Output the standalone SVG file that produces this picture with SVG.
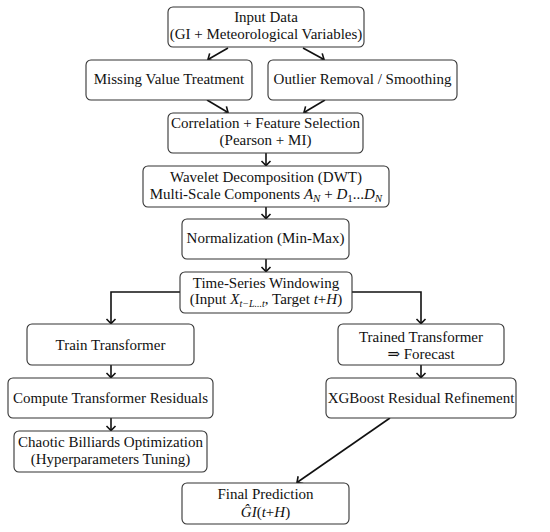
<svg xmlns="http://www.w3.org/2000/svg" width="550" height="532" viewBox="0 0 550 532">
<style>
.box{fill:#fff;stroke:#333;stroke-width:1.1}
.t{font-family:"Liberation Serif","DejaVu Serif",serif;font-size:15px;fill:#111;text-anchor:middle}
.i{font-style:italic}
.c{fill:none;stroke:#111;stroke-width:1.6}
</style>
<defs>
<marker id="ah" viewBox="-6 -6 8 12" markerWidth="8" markerHeight="12" refX="0" refY="0" orient="auto" markerUnits="userSpaceOnUse">
<path d="M-4.5,-4.5 L0,0 L-4.5,4.5" fill="none" stroke="#111" stroke-width="1.6"/>
</marker>
</defs>
<rect width="550" height="532" fill="#fff"/>
<g id="connectors">
<line class="c" x1="228" y1="48" x2="208" y2="59.5" marker-end="url(#ah)"/>
<line class="c" x1="303" y1="48" x2="324" y2="59.5" marker-end="url(#ah)"/>
<line class="c" x1="207" y1="100" x2="228" y2="112.5" marker-end="url(#ah)"/>
<line class="c" x1="325" y1="100" x2="304" y2="112.5" marker-end="url(#ah)"/>
<line class="c" x1="266" y1="153" x2="266" y2="165.5" marker-end="url(#ah)"/>
<line class="c" x1="266" y1="207" x2="266" y2="218.5" marker-end="url(#ah)"/>
<line class="c" x1="266" y1="259" x2="266" y2="271.5" marker-end="url(#ah)"/>
<polyline class="c" points="180,292 111,292 111,323.5" marker-end="url(#ah)"/>
<polyline class="c" points="352,292 421,292 421,323.5" marker-end="url(#ah)"/>
<line class="c" x1="111" y1="365" x2="111" y2="377.5" marker-end="url(#ah)"/>
<line class="c" x1="111" y1="418" x2="111" y2="430.5" marker-end="url(#ah)"/>
<line class="c" x1="421" y1="365" x2="421" y2="377.5" marker-end="url(#ah)"/>
<line class="c" x1="390" y1="418" x2="297" y2="482.5" marker-end="url(#ah)"/>
</g>
<g id="input">
<rect class="box" x="168" y="7" width="196" height="40" rx="5"/>
<text class="t" x="266" y="22">Input Data</text>
<text class="t" x="266" y="39">(GI + Meteorological Variables)</text>
</g>
<g id="missing">
<rect class="box" x="86" y="60" width="166" height="40" rx="5"/>
<text class="t" x="169" y="84">Missing Value Treatment</text>
</g>
<g id="outlier">
<rect class="box" x="268" y="60" width="189" height="40" rx="5"/>
<text class="t" x="362.5" y="84">Outlier Removal / Smoothing</text>
</g>
<g id="correlation">
<rect class="box" x="168" y="113" width="195" height="40" rx="5"/>
<text class="t" x="265.5" y="128">Correlation + Feature Selection</text>
<text class="t" x="265.5" y="145">(Pearson + MI)</text>
</g>
<g id="wavelet">
<rect class="box" x="143" y="166" width="246" height="41" rx="5"/>
<text class="t" x="266" y="182">Wavelet Decomposition (DWT)</text>
<text class="t" x="266" y="199">Multi-Scale Components <tspan class="i">A</tspan><tspan class="i" font-size="11" dy="3">N</tspan><tspan dy="-3"> + </tspan><tspan class="i">D</tspan><tspan font-size="11" dy="3">1</tspan><tspan dy="-3">...</tspan><tspan class="i">D</tspan><tspan class="i" font-size="11" dy="3">N</tspan></text>
</g>
<g id="normalization">
<rect class="box" x="182" y="219" width="167" height="40" rx="5"/>
<text class="t" x="265.5" y="243">Normalization (Min-Max)</text>
</g>
<g id="windowing">
<rect class="box" x="180" y="272" width="172" height="41" rx="5"/>
<text class="t" x="266" y="288">Time-Series Windowing</text>
<text class="t" x="266" y="304">(Input <tspan class="i">X</tspan><tspan class="i" font-size="10" dy="3">t−L...t</tspan><tspan dy="-3">, Target </tspan><tspan class="i">t</tspan>+<tspan class="i">H</tspan>)</text>
</g>
<g id="train">
<rect class="box" x="27" y="324" width="167" height="41" rx="5"/>
<text class="t" x="110.5" y="350">Train Transformer</text>
</g>
<g id="trained">
<rect class="box" x="338" y="324" width="166" height="41" rx="5"/>
<text class="t" x="421" y="342">Trained Transformer</text>
<text class="t" x="421" y="359">⇒ Forecast</text>
</g>
<g id="residuals">
<rect class="box" x="8" y="378" width="205" height="40" rx="5"/>
<text class="t" x="110.5" y="403">Compute Transformer Residuals</text>
</g>
<g id="xgboost">
<rect class="box" x="326" y="378" width="190" height="40" rx="5"/>
<text class="t" x="421" y="403">XGBoost Residual Refinement</text>
</g>
<g id="cbo">
<rect class="box" x="14" y="431" width="193" height="41" rx="5"/>
<text class="t" x="110.5" y="447">Chaotic Billiards Optimization</text>
<text class="t" x="110.5" y="464">(Hyperparameters Tuning)</text>
</g>
<g id="final">
<rect class="box" x="182" y="483" width="167" height="41" rx="5"/>
<text class="t" x="265.5" y="499">Final Prediction</text>
<text class="t" x="265.5" y="517"><tspan class="i">Ĝ</tspan><tspan class="i">I</tspan>(<tspan class="i">t</tspan>+<tspan class="i">H</tspan>)</text>
</g>
</svg>
